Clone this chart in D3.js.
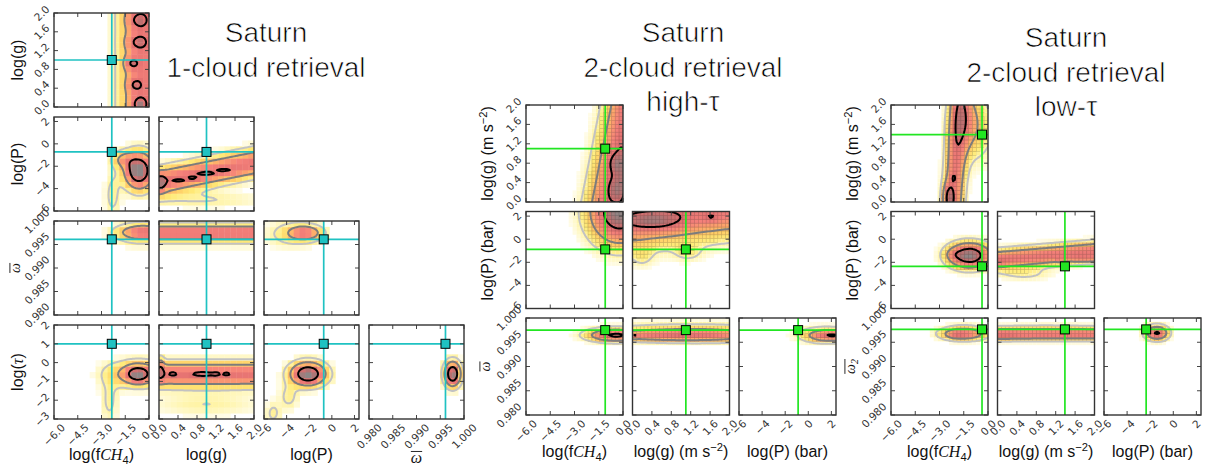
<!DOCTYPE html>
<html><head><meta charset="utf-8">
<script src="https://cdn.jsdelivr.net/npm/d3@7/dist/d3.min.js"></script>
<style>body{margin:0;background:#fff}svg{display:block}</style>
</head><body>
<svg id="c" width="1207" height="467"></svg>
<script>
// ================= DATA =================
// tick labels / axis ranges
const fTicks=[-6,-4.5,-3,-1.5,0];
const gTicks=[0,0.4,0.8,1.2,1.6,2.0];
const pTicks=[-6,-4,-2,0,2];
const wTicks=[0.980,0.985,0.990,0.995,1.000];
const tTicks=[-3,-2,-1,0,1,2];
const fDomain=[-6,0], gDomain=[0,2], pDomain=[-6,2.4], wDomain=[0.98,1.0], tDomain=[-3,2];

// true values (crosshair + square marker): fCH4, g, P, omega, tau
const truth1=[-2.35,1.0,-0.72,0.9961,1.0];
const truthHigh=[-1.1,1.1,-0.88,0.9975];
const truthLow=[-0.37,1.39,-2.35,0.99765];

// posterior density blobs: [cx, cy, sx, sy, weight, shearX, shearY]
// --- 1-cloud retrieval ---
const one_G_F=[[-0.35,1.0,0.95,20,0.58],[-0.7,1.85,0.45,0.11,0.24],[-0.75,1.38,0.45,0.1,0.24],[-1.1,0.93,0.3,0.09,0.3],[-0.9,0.47,0.3,0.09,0.26],[-0.6,0.06,0.3,0.1,0.32]];
const one_P_F=[[-0.6,-2.4,0.65,1.1,0.75],[-0.7,-2.4,0.45,0.8,0.3],[-1.6,-1.4,0.5,0.5,0.3],[-2.3,-4.6,0.35,1.4,0.13]];
const one_P_G=[[1,-2.55,20,0.8,0.6,0,0.85],[0.43,-3.3,0.12,0.12,0.18],[0.72,-3.05,0.1,0.1,0.18],[1.0,-2.65,0.15,0.12,0.18],[1.37,-2.35,0.12,0.1,0.17],[0.03,-3.45,0.08,0.5,0.35],[1.0,-5.0,0.9,0.5,0.1]];
const one_W_F=[[-0.3,0.9976,1.0,0.001,0.56],[-0.5,0.9972,1.2,0.002,0.12]];
const one_W_G=[[1,0.9975,20,0.001,0.56],[1,0.9972,20,0.002,0.1]];
const one_W_P=[[-2.4,0.9975,0.95,0.001,0.54],[-3.6,0.9972,1.6,0.002,0.14]];
const one_T_F=[[-0.7,-0.6,0.5,0.3,0.55],[-0.6,-0.6,1.3,0.45,0.45],[-2.5,-2.0,0.4,0.9,0.12]];
const one_T_G=[[1,-0.62,20,0.42,0.62],[0.29,-0.6,0.06,0.08,0.14],[0.92,-0.6,0.16,0.1,0.14],[1.2,-0.6,0.06,0.07,0.12],[1.42,-0.6,0.06,0.07,0.12],[1.0,-2.2,0.8,0.45,0.1],[0.03,-0.3,0.05,0.4,0.3]];
const one_T_P=[[-2.1,-0.6,1.0,0.4,1.0],[-3.8,-1.8,0.6,0.5,0.13],[-5.2,-2.7,0.5,0.45,0.12]];
const one_T_W=[[0.9976,-0.6,0.0011,0.42,1.0]];
// --- 2-cloud, high tau ---
const hi_G_F=[[-0.2,1.0,0.95,20,0.6,0.6,0],[-0.45,0.8,0.35,0.15,0.22],[-0.45,0.25,0.35,0.18,0.22],[-0.05,0.4,0.25,0.5,0.2]];
const hi_P_F=[[-0.2,2.4,1.2,1.8,0.95]];
const hi_P_G=[[1,2.4,20,1.7,0.6,0,0.5],[0.45,1.6,0.4,0.55,0.3],[1.63,1.9,0.12,0.25,0.15],[0.2,-1.5,0.15,0.6,0.1],[1.15,-1.2,0.2,0.5,0.1]];
const hi_W_F=[[-0.4,0.99645,1.1,0.0008,0.64],[-0.6,0.9967,1.3,0.0014,0.1]];
const hi_W_G=[[0.7,0.99645,1.0,0.0008,0.45],[1.8,0.9965,0.8,0.001,0.2],[1.0,0.9975,1.5,0.0014,0.12],[0.04,0.9963,0.05,0.0003,0.3]];
const hi_W_P=[[2.2,0.9964,1.4,0.0008,0.62],[1.0,0.9966,1.5,0.0014,0.12]];
// --- 2-cloud, low tau ---
const lo_G_F=[[-1.95,1.0,0.42,20,0.55,0.2,0],[-1.3,1.65,0.6,0.4,0.28],[-0.6,1.5,0.9,0.5,0.14],[-2.45,0.1,0.22,0.2,0.4],[-2.12,0.5,0.1,0.08,0.16]];
const lo_P_F=[[-1.15,-1.4,0.85,0.7,0.95],[-2.1,-1.3,0.3,0.3,0.12]];
const lo_P_G=[[1,-1.4,20,0.55,0.58,0,0.35],[1.85,-1.7,0.25,0.22,0.22],[1.27,-1.75,0.04,0.1,0.16],[0.06,-1.95,0.1,0.25,0.08],[0.55,-3.0,0.4,0.4,0.12]];
const lo_W_F=[[-1.5,0.99672,0.9,0.0008,0.5],[-2.0,0.9966,0.35,0.0005,0.15],[-1.5,0.9972,1.0,0.0014,0.1]];
const lo_W_G=[[1,0.99665,20,0.0008,0.56],[0.1,0.9965,0.2,0.0005,0.1],[1.0,0.9978,1.2,0.0008,0.08]];
const lo_W_P=[[-1.4,0.9969,0.6,0.0009,0.64],[-1.6,0.9972,0.9,0.0014,0.08]];

// contour levels and colour map
const contourLevels=[0.1,0.3,0.68];
const contourColors=['#c2c2c2','#7c7c7c','#000000'];
const heatStops=[0.03,0.08,0.16,0.26,0.38,0.52,0.66,0.8,0.95];
const heatColors=['#fffce8','#fff6b4','#ffeb78','#ffcc66','#fca46c','#f5817a','#e27070','#b87070','#8e8686'];

// ================= RENDER =================
const minus=s=>String(s).replace('-','\u2212');
const PARAMS={
  F:{domain:fDomain,ticks:fTicks,fmt:d=>minus(d.toFixed(1))},
  G:{domain:gDomain,ticks:gTicks,fmt:d=>d.toFixed(1)},
  P:{domain:pDomain,ticks:pTicks,fmt:d=>minus(d)},
  W:{domain:wDomain,ticks:wTicks,fmt:d=>d.toFixed(3)},
  T:{domain:tDomain,ticks:tTicks,fmt:d=>minus(d)}
};
const LBL={
  F:[['log(f'],['CH','i'],['4','sub'],[')']],
  G1:[['log(g)']], G2:[['log(g) (m s'],['\u22122','sup'],[')']],
  P1:[['log(P)']], P2:[['log(P) (bar)']],
  T:[['log('],['\u03c4','i'],[')']],
  W:'omega', W2:'omega2'
};
const corners=[
 {names:['F','G','P','W','T'],truth:truth1,color:'#1fc2c2',x0:54,y0:13,w:95,h:94,stx:105,sty:104,bins:16,grid:false,
  labels:{F:LBL.F,G:LBL.G1,P:LBL.P1,W:LBL.W,T:LBL.T},xLabY:460,yLabX:23,
  panels:[['G','F',one_G_F],['P','F',one_P_F],['P','G',one_P_G],['W','F',one_W_F],['W','G',one_W_G],['W','P',one_W_P],
          ['T','F',one_T_F],['T','G',one_T_G],['T','P',one_T_P],['T','W',one_T_W]],
  title:['Saturn','1-cloud retrieval'],tx:266,ty:42},
 {names:['F','G','P','W'],truth:truthHigh,color:'#22e622',x0:526,y0:105,w:97,h:97,stx:106.5,sty:106.5,bins:25,grid:true,
  labels:{F:LBL.F,G:LBL.G2,P:LBL.P2,W:LBL.W},xLabY:457,yLabX:493,
  panels:[['G','F',hi_G_F],['P','F',hi_P_F],['P','G',hi_P_G],['W','F',hi_W_F],['W','G',hi_W_G],['W','P',hi_W_P]],
  title:['Saturn','2-cloud retrieval','high-\u03c4'],tx:683,ty:42},
 {names:['F','G','P','W'],truth:truthLow,color:'#22e622',x0:891,y0:105,w:97,h:97,stx:106.5,sty:106.5,bins:25,grid:true,
  labels:{F:LBL.F,G:LBL.G2,P:LBL.P2,W:LBL.W2},xLabY:457,yLabX:858,
  panels:[['G','F',lo_G_F],['P','F',lo_P_F],['P','G',lo_P_G],['W','F',lo_W_F],['W','G',lo_W_G],['W','P',lo_W_P]],
  title:['Saturn','2-cloud retrieval','low-\u03c4'],tx:1066,ty:47}
];

const svg=d3.select('#c');
const heat=d3.scaleLinear().domain(heatStops).range(heatColors).interpolate(d3.interpolateRgb).clamp(true);

function dens(b,x,y){
  let s=0;
  for(const [cx,cy,sx,sy,w,kx=0,ky=0] of b){
    const a=((x-cx)-kx*(y-cy))/sx, c=((y-cy)-ky*(x-cx))/sy;
    s+=w*Math.exp(-0.5*(a*a+c*c));
  }
  return s;
}

function drawLabel(parent,spec,x,y,rot,fs){
  const g=parent.append('g').attr('transform',`translate(${x},${y}) rotate(${rot})`);
  if(spec==='omega'||spec==='omega2'){
    const t=g.append('text').attr('text-anchor','middle').attr('font-family','Liberation Serif, serif')
      .attr('font-style','italic').attr('font-size',fs).attr('fill','#111');
    t.append('tspan').text('\u03c9');
    if(spec==='omega2') t.append('tspan').attr('font-size',fs*0.7).attr('dy',fs*0.2).text('2');
    const bb=t.node().getBBox();
    g.append('line').attr('x1',bb.x).attr('x2',bb.x+bb.width).attr('y1',-fs*0.72).attr('y2',-fs*0.72)
      .attr('stroke','#111').attr('stroke-width',0.9);
    return;
  }
  const t=g.append('text').attr('text-anchor','middle').attr('font-family','Liberation Sans, Arial, sans-serif')
    .attr('font-size',fs).attr('fill','#111');
  let shift=0;
  for(const [s,st] of spec){
    const ts=t.append('tspan').text(s);
    let target=0;
    if(st==='i') ts.attr('font-family','Liberation Serif, serif').attr('font-style','italic');
    if(st==='sub'){ts.attr('font-size',fs*0.7);target=4;}
    if(st==='sup'){ts.attr('font-size',fs*0.7);target=-6;}
    if(target!==shift){ts.attr('dy',target-shift);shift=target;}
  }
}

function tickLabel(parent,txt,mode,px,py){
  const fs=10.5;
  const t=parent.append('text').attr('font-family','DejaVu Sans, sans-serif').attr('font-size',fs)
    .attr('fill','#333').attr('text-anchor','middle').attr('dominant-baseline','central').text(txt);
  const L=t.node().getComputedTextLength();
  const side=(L+fs*0.95)*0.7071;
  if(mode==='x') t.attr('transform',`translate(${px},${py+3+side/2}) rotate(-45)`);
  else t.attr('transform',`translate(${px-3-side/2},${py}) rotate(-45)`);
}

let clipId=0;
corners.forEach((C,ci)=>{
  const G=svg.append('g');
  const nP=C.names.length;
  // title (thin strokes: white outline over the fill slims the glyphs)
  C.title.forEach((s,k)=>{
    G.append('text').attr('x',C.tx).attr('y',C.ty+k*34.5).attr('text-anchor','middle')
      .attr('font-family','Liberation Sans, Arial, sans-serif').attr('font-size',28).attr('fill','#000')
      .attr('stroke','#fff').attr('stroke-width',0.7).attr('paint-order','normal').text(s);
  });
  C.panels.forEach(([yn,xn,blobs])=>{
    const r=C.names.indexOf(yn)-1, c=C.names.indexOf(xn);
    const X=PARAMS[xn], Y=PARAMS[yn];
    const left=C.x0+c*C.stx, top=C.y0+r*C.sty;
    const xs=d3.scaleLinear().domain(X.domain).range([left,left+C.w]);
    const ys=d3.scaleLinear().domain(Y.domain).range([top+C.h,top]);
    const id='cl'+(clipId++);
    G.append('clipPath').attr('id',id).append('rect').attr('x',left).attr('y',top).attr('width',C.w).attr('height',C.h);
    const P=G.append('g').attr('clip-path',`url(#${id})`);
    // histogram cells
    const nb=C.bins;
    const bx=(X.domain[1]-X.domain[0])/nb, by=(Y.domain[1]-Y.domain[0])/nb;
    const cells=[];
    for(let j=0;j<nb;j++)for(let i=0;i<nb;i++){
      const xa=X.domain[0]+i*bx, ya=Y.domain[0]+j*by;
      const v=dens(blobs,xa+bx/2,ya+by/2);
      if(v>=heatStops[0]) cells.push({xa,xb:xa+bx,ya,yb:ya+by,v});
    }
    P.selectAll(null).data(cells).join('rect')
      .attr('x',d=>xs(d.xa)).attr('y',d=>ys(d.yb))
      .attr('width',d=>xs(d.xb)-xs(d.xa)+(C.grid?0:0.4)).attr('height',d=>ys(d.ya)-ys(d.yb)+(C.grid?0:0.4))
      .attr('fill',d=>heat(d.v))
      .attr('stroke',d=>(C.grid&&d.v>0.14)?d3.color(heat(d.v)).darker(0.6).formatHex():'none')
      .attr('stroke-width',C.grid?0.6:0);
    // contours (sampled on an extended grid so lines do not run along the frame)
    const n=70, ext=0.15;
    const xlo=X.domain[0]-ext*(X.domain[1]-X.domain[0]), xhi=X.domain[1]+ext*(X.domain[1]-X.domain[0]);
    const ylo=Y.domain[0]-ext*(Y.domain[1]-Y.domain[0]), yhi=Y.domain[1]+ext*(Y.domain[1]-Y.domain[0]);
    const sx=(xhi-xlo)/n, sy=(yhi-ylo)/n;
    const vals=new Float64Array(n*n);
    for(let j=0;j<n;j++)for(let i=0;i<n;i++) vals[j*n+i]=dens(blobs,xlo+(i+0.5)*sx,ylo+(j+0.5)*sy);
    const cs=d3.contours().size([n,n]).thresholds(contourLevels)(vals);
    const path=d3.geoPath(d3.geoTransform({point(px,py){this.stream.point(xs(xlo+px*sx),ys(ylo+py*sy));}}));
    P.selectAll(null).data(cs).join('path').attr('d',path).attr('fill','none')
      .attr('stroke',(d,k)=>contourColors[k]).attr('stroke-width',2).attr('stroke-linejoin','round');
    // truth crosshair
    const tx=xs(C.truth[c]), ty=ys(C.truth[r+1]);
    P.append('line').attr('x1',tx).attr('x2',tx).attr('y1',top).attr('y2',top+C.h).attr('stroke',C.color).attr('stroke-width',1.7);
    P.append('line').attr('x1',left).attr('x2',left+C.w).attr('y1',ty).attr('y2',ty).attr('stroke',C.color).attr('stroke-width',1.7);
    G.append('rect').attr('x',tx-4.5).attr('y',ty-4.5).attr('width',9).attr('height',9)
      .attr('fill',C.color).attr('stroke','#000').attr('stroke-width',1);
    // ticks (inward, all sides)
    const tk=G.append('g').attr('stroke','#444').attr('stroke-width',1);
    X.ticks.forEach(t=>{const x=xs(t);
      tk.append('line').attr('x1',x).attr('x2',x).attr('y1',top+C.h).attr('y2',top+C.h-4);
      tk.append('line').attr('x1',x).attr('x2',x).attr('y1',top).attr('y2',top+4);});
    Y.ticks.forEach(t=>{const y=ys(t);
      tk.append('line').attr('x1',left).attr('x2',left+4).attr('y1',y).attr('y2',y);
      tk.append('line').attr('x1',left+C.w).attr('x2',left+C.w-4).attr('y1',y).attr('y2',y);});
    // frame
    G.append('rect').attr('x',left).attr('y',top).attr('width',C.w).attr('height',C.h)
      .attr('fill','none').attr('stroke','#333').attr('stroke-width',1.4);
    // tick labels + axis labels
    if(c===0){
      Y.ticks.forEach(t=>tickLabel(G,Y.fmt(t),'y',left,ys(t)));
      const spec=C.labels[yn];
      if(typeof spec==='string') drawLabel(G,spec,C.yLabX-3,top+C.h/2,-90,14);
      else drawLabel(G,spec,C.yLabX,top+C.h/2,-90,16);
    }
    if(r===nP-2){
      X.ticks.forEach(t=>tickLabel(G,X.fmt(t),'x',xs(t),top+C.h));
      const spec=C.labels[xn];
      if(typeof spec==='string') drawLabel(G,spec,left+C.w/2,C.xLabY+3,0,16);
      else drawLabel(G,spec,left+C.w/2,C.xLabY,0,16);
    }
  });
});
</script>
</body></html>
